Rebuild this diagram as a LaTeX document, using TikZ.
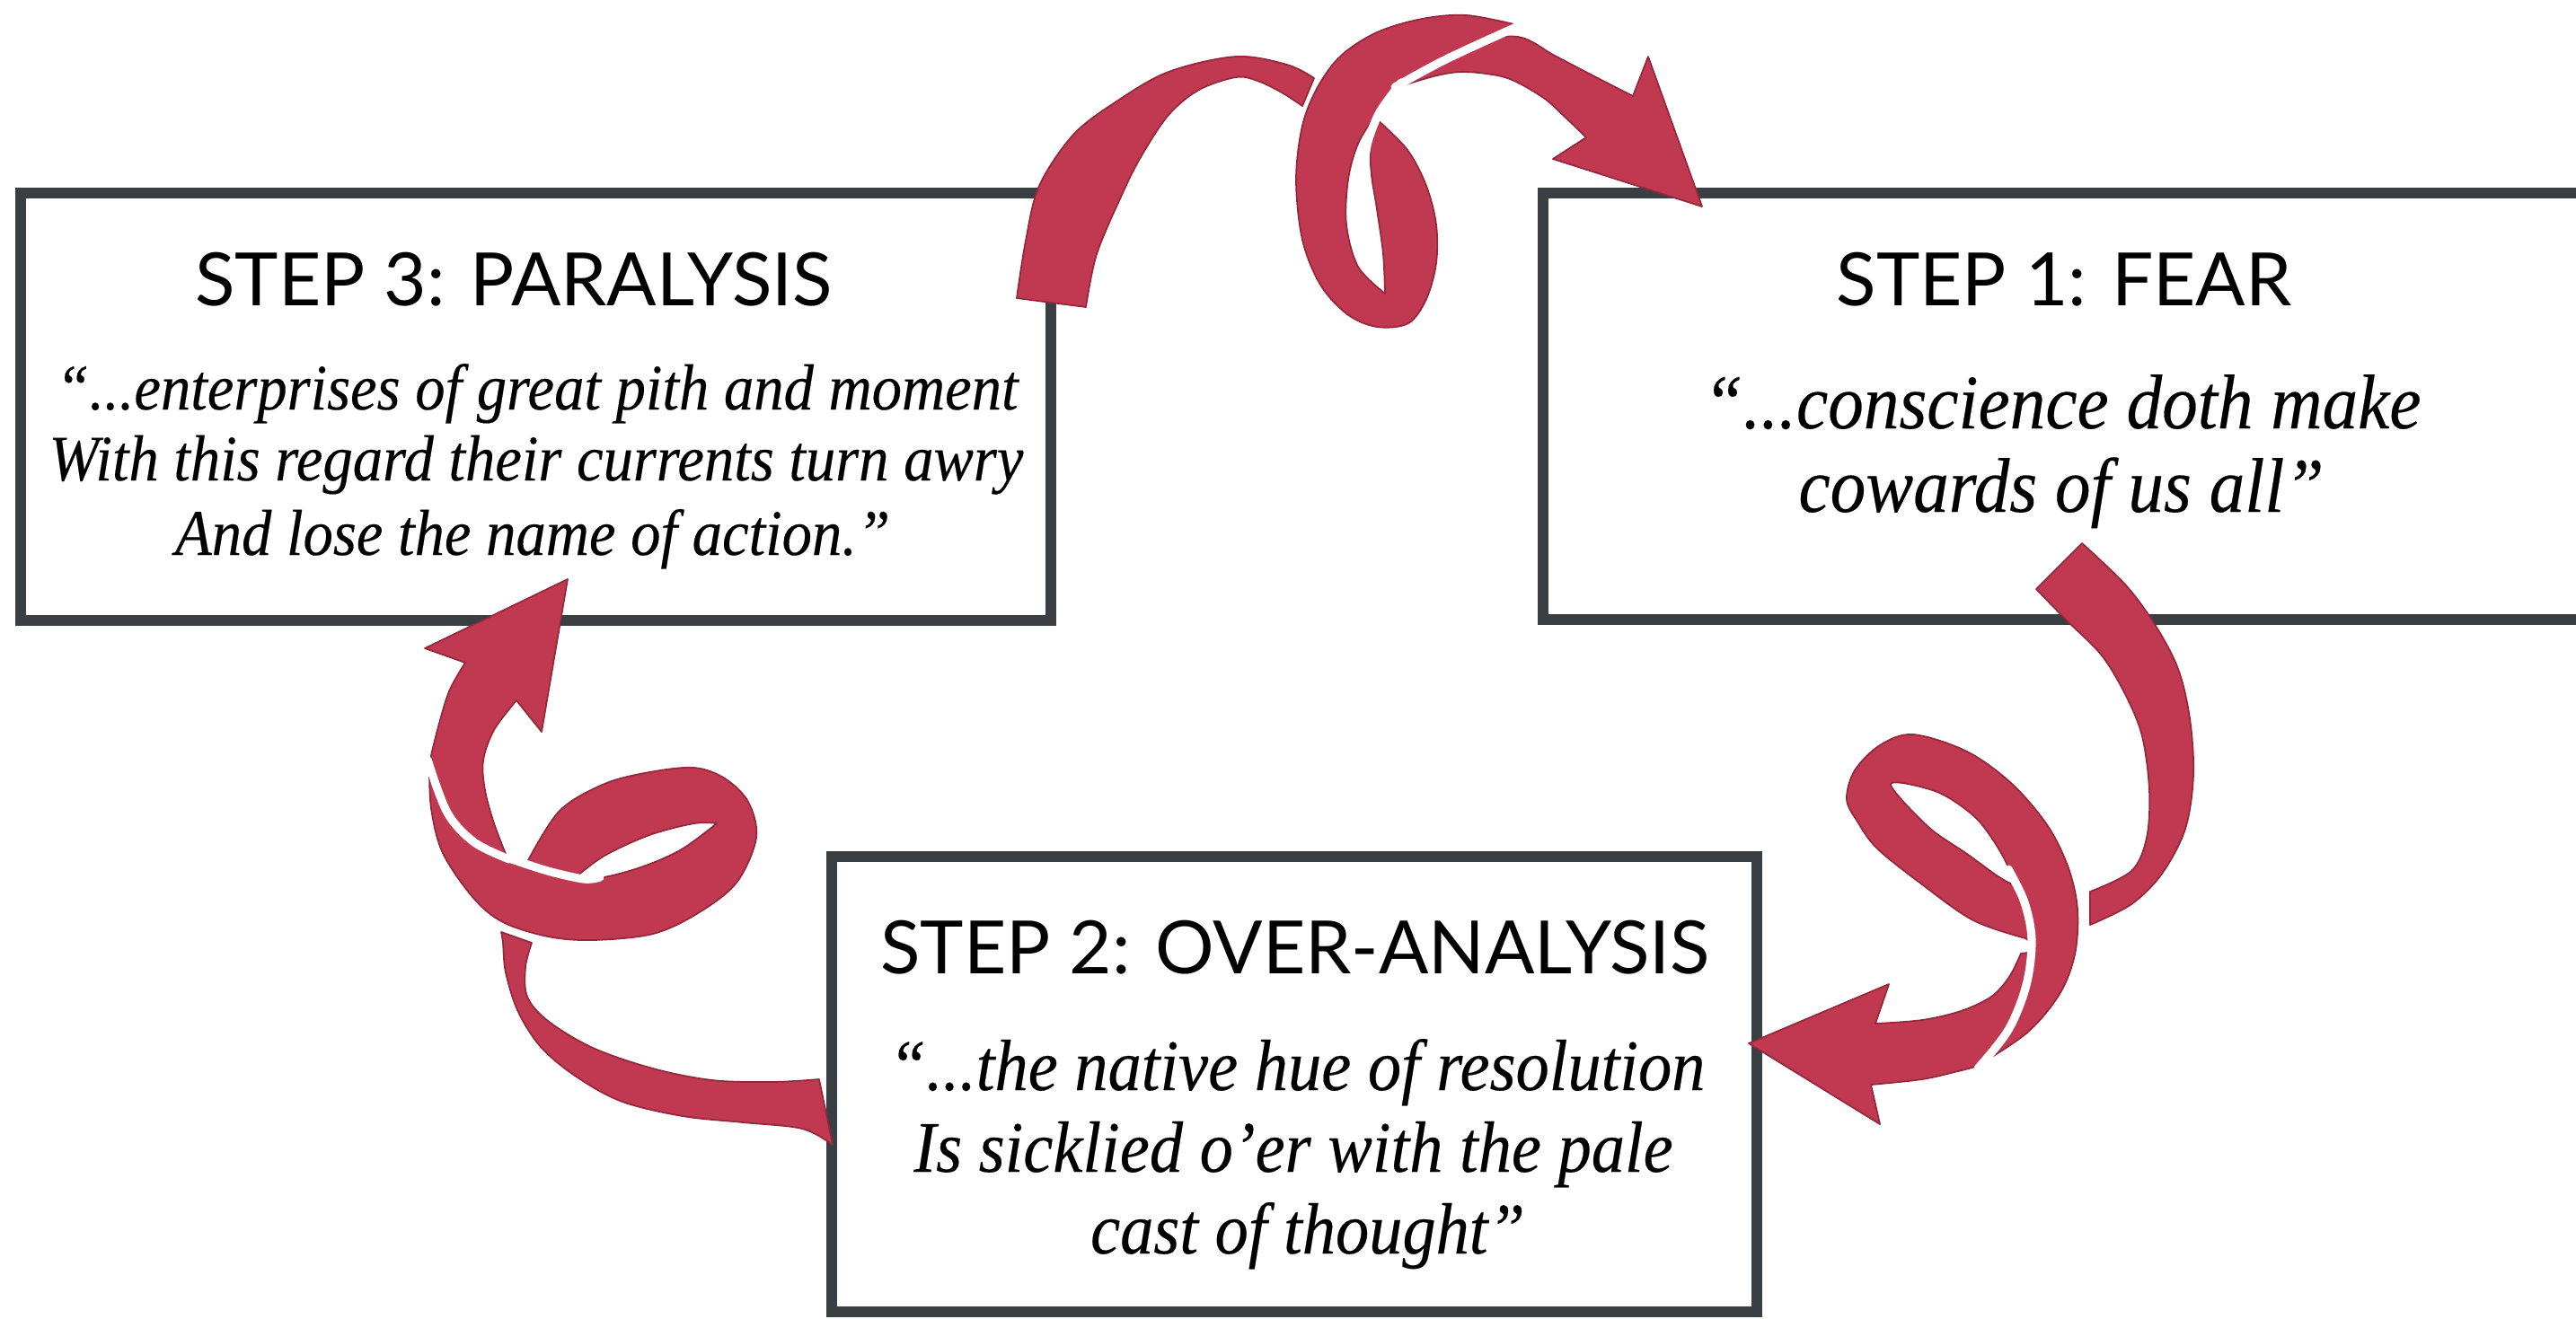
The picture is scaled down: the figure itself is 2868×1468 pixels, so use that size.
\documentclass[tikz,border=0pt]{standalone}
\usepackage{fontspec}
\newfontfamily\ttlfont{Lato}
\newfontfamily\qtfont{Liberation Serif}[FakeStretch=0.92, FakeBold=0.25]
\definecolor{ribred}{RGB}{193,57,80}
\definecolor{ribedge}{RGB}{150,40,60}
\definecolor{boxgray}{RGB}{58,63,68}
\begin{document}
\begin{tikzpicture}[x=0.01cm,y=-0.01cm,
  stepbox/.style={draw=boxgray, line width=3.4pt, fill=white, inner sep=0pt, outer sep=0pt},
  ttl/.style={font=\ttlfont\fontsize{23.3}{28}\selectfont, anchor=base, inner sep=0pt, text=black},
  qt/.style={font=\qtfont\itshape\fontsize{#1}{#1}\selectfont, anchor=base, inner sep=0pt, text=black},
  rib/.style={fill=ribred, draw=ribedge, line width=0.5pt, line join=round},
  gap/.style={draw=white, line width=2.6pt, line cap=round},
  sm/.style={smooth, tension=0.55}
]
\useasboundingbox (0,0) rectangle (2868,1468);
\clip (0,0) rectangle (2868,1468);
\fill[white] (0,0) rectangle (2868,1468);

% boxes
\node[stepbox, minimum width=11.47cm, minimum height=4.76cm] (s3) at (596.5,453) {};
\node[stepbox, minimum width=11.60cm, minimum height=4.75cm] (s1) at (2298,452.5) {};
\node[stepbox, minimum width=10.30cm, minimum height=5.07cm] (s2) at (1441,1207.5) {};

% texts
\node[ttl] (t3) at (572,340) {STEP 3: PARALYSIS};
\node[qt=20.6] (q3a) at (598,456) {“...enterprises of great pith and moment};
\node[qt=20.6] (q3b) at (597,535) {With this regard their currents turn awry};
\node[qt=20.6] (q3c) at (593,618) {And lose the name of action.”};

\node[ttl] (t1) at (2298,340) {STEP 1: FEAR};
\node[qt=24.5] (q1a) at (2296,477) {“...conscience doth make};
\node[qt=24.5] (q1b) at (2295,570) {cowards of us all”};

\node[ttl] (t2) at (1442,1084) {STEP 2: OVER-ANALYSIS};
\node[qt=23] (q2a) at (1444,1214) {“...the native hue of resolution};
\node[qt=23] (q2b) at (1440,1305) {Is sicklied o’er with the pale};
\node[qt=23] (q2c) at (1456,1396) {cast of thought”};

% ---------- top ribbon: step 3 -> step 1 ----------
\path[rib] plot[sm] coordinates {(1132,332) (1142,268) (1157,207) (1195,150) (1243,113) (1301,80) (1376,63) (1433,72) (1463,87)}
  -- plot[sm] coordinates {(1450,118) (1427,103) (1400,90) (1376,86) (1335,100) (1301,128) (1270,175) (1249,217) (1221,283) (1209,342)} -- cycle;
\path[rib] plot[sm] coordinates {(1548,98) (1570,68) (1633,48) (1690,41) (1731,62) (1775,85) (1818,107)}
  -- (1835,63) -- (1895,230) -- (1729,177) -- (1766,153)
  -- plot[sm] coordinates {(1766,153) (1740,128) (1720,110) (1690,92) (1667,84) (1630,80) (1600,84) (1556,97)} -- cycle;
\path[rib] plot[sm] coordinates {(1690,28) (1633,17) (1583,21) (1533,36) (1493,62) (1467,97) (1450,140) (1443,200) (1450,267) (1470,317) (1500,350) (1533,364) (1568,360) (1588,333) (1599,293) (1599,250) (1588,207) (1567,167) (1533,133)}
  -- plot[sm] coordinates {(1533,133) (1526,165) (1527,195) (1533,233) (1540,283) (1542,327)}
  -- plot[sm] coordinates {(1542,327) (1512,297) (1499,250) (1501,200) (1512,160) (1533,126) (1555,96)} -- cycle;
\draw[gap] plot[sm] coordinates {(1553,97) (1610,66) (1695,27)};
\draw[gap] plot[sm] coordinates {(1560,92) (1536,125) (1523,158) (1519,185)};

% ---------- right ribbon: step 1 -> step 2 ----------
\path[rib] plot[sm] coordinates {(2318,605) (2367,652) (2400,697) (2425,745) (2438,800) (2442,863) (2433,923) (2407,973) (2373,1007) (2327,1030)}
  -- plot[sm] coordinates {(2327,993) (2373,970) (2390,933) (2393,880) (2385,820) (2367,775) (2340,730) (2300,690) (2267,656)} -- cycle;
\path[rib] (1947,1162) -- (2103,1096) -- (2088,1140)
  -- plot[sm] coordinates {(2088,1140) (2140,1136) (2183,1126) (2217,1110) (2237,1088) (2250,1062)}
  -- (2265,1060) -- (2262,1110) -- (2235,1160)
  -- plot[sm] coordinates {(2203,1187) (2180,1193) (2140,1202) (2083,1208)}
  -- (2093,1252) -- cycle;
\path[rib, even odd rule] plot[sm] coordinates {(2200,1188) (2257,1150) (2293,1107) (2310,1063) (2313,1013) (2303,967) (2280,920) (2240,873) (2190,837) (2130,818) (2093,830) (2065,858) (2056,890) (2068,915) (2090,945) (2140,985) (2197,1025) (2255,1045)}
  -- plot[sm] coordinates {(2262,1050) (2256,1097) (2235,1147) (2200,1188)} -- cycle
  plot[smooth cycle] coordinates {(2105,873) (2157,882) (2200,911) (2228,950) (2242,983) (2226,977) (2190,951) (2147,921)};
\draw[gap] plot[sm] coordinates {(2236,968) (2254,1005) (2262,1047) (2256,1097) (2236,1147) (2202,1190)};

% ---------- left ribbon: step 2 -> step 3 ----------
\path[rib] plot[sm] coordinates {(558,1038) (560,1050) (563,1083) (577,1127) (603,1167) (643,1200) (693,1227) (760,1243) (827,1250) (893,1257) (927,1275)}
  -- plot[sm] coordinates {(912,1202) (860,1205) (793,1203) (727,1190) (660,1167) (610,1137) (587,1110) (585,1077) (592,1050)} -- cycle;
\path[rib] (632,645) -- (603,815) -- (575,780)
  -- plot[sm] coordinates {(575,780) (550,813) (538,847) (540,880) (550,917) (565,956)}
  -- plot[sm] coordinates {(565,956) (528,938) (498,905) (478,850)}
  -- plot[sm] coordinates {(478,850) (487,813) (500,770) (518,738)}
  -- (473,722) -- cycle;
\path[rib] plot[sm] coordinates {(478,850) (480,900) (493,950) (527,1000) (560,1027) (610,1043) (660,1047) (727,1040) (777,1017) (820,983) (842,933) (833,893) (807,867) (773,855) (723,860) (673,873) (623,903) (587,960)}
  -- plot[sm] coordinates {(642,976) (673,953) (723,930) (773,917) (798,917)}
  -- plot[sm] coordinates {(798,917) (757,947) (707,968) (655,979) (610,970) (565,956)}
  -- plot[sm] coordinates {(565,956) (528,938) (498,905) (478,850)} -- cycle;
\draw[gap] plot[sm] coordinates {(476,846) (498,905) (528,938) (567,957)};
\draw[gap] plot[sm] coordinates {(570,957) (610,970) (650,979) (668,977)};
\end{tikzpicture}
\end{document}
